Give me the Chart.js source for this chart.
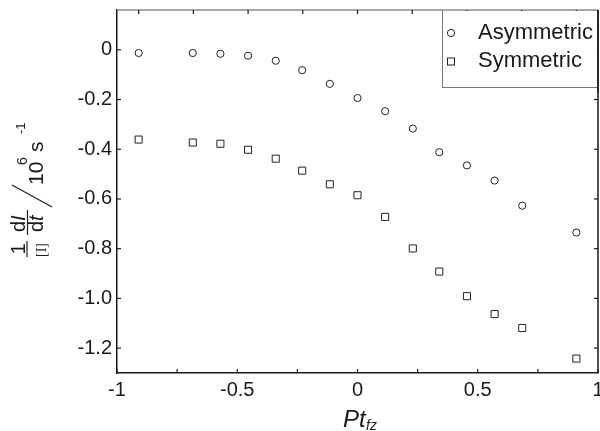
<!DOCTYPE html>
<html>
<head>
<meta charset="utf-8">
<script src="https://cdn.jsdelivr.net/npm/chart.js@4/dist/chart.umd.min.js"></script>
<style>
    body { margin: 0; background: #fff; }
</style>
</head>
<body>
<canvas id="chart" width="600" height="431"></canvas>
<script>
const ptValues = [-0.91, -0.685, -0.57, -0.455, -0.34, -0.23, -0.115, 0, 0.115, 0.23, 0.34, 0.455, 0.57, 0.685, 0.91];
const asymmetricRates = [-0.013, -0.013, -0.016, -0.024, -0.044, -0.082, -0.137, -0.194, -0.247, -0.317, -0.412, -0.465, -0.526, -0.627, -0.735];
const symmetricRates = [-0.361, -0.373, -0.378, -0.402, -0.438, -0.486, -0.541, -0.585, -0.672, -0.799, -0.892, -0.991, -1.063, -1.119, -1.242];

const xTickLabels = [-1, -0.5, 0, 0.5, 1];
const xMinorTicks = [-0.75, -0.25, 0.25, 0.75];
const topTicks = [-0.91, -0.6825, -0.455, -0.2275, 0, 0.2275, 0.455, 0.6825, 0.91];
const yTickLabels = [0, -0.2, -0.4, -0.6, -0.8, -1.0, -1.2];
const seriesNames = ["Asymmetric", "Symmetric"];

const FONT = "'Liberation Sans', Arial, sans-serif";
const INK = "#1a1a1a";

function toPoints(values) {
    return ptValues.map((x, i) => ({ x: x, y: values[i] }));
}

function line(ctx, x1, y1, x2, y2) {
    ctx.beginPath();
    ctx.moveTo(x1, y1);
    ctx.lineTo(x2, y2);
    ctx.stroke();
}

// frame, inward ticks, legend box and the two axis titles
const framePlugin = {
    id: "frame",
    afterDraw(chart) {
        const ctx = chart.ctx;
        const area = chart.chartArea;
        const xs = chart.scales.x;
        const ys = chart.scales.y;

        ctx.save();
        ctx.lineCap = "butt";

        // top and right edges
        ctx.lineWidth = 1.5;
        ctx.strokeStyle = "#8a8a8a";
        line(ctx, area.left, area.top, area.right, area.top);
        ctx.strokeStyle = INK;
        line(ctx, area.right, area.top, area.right, area.bottom);

        ctx.lineWidth = 1.2;
        ctx.strokeStyle = INK;
        for (let v of xTickLabels.concat(xMinorTicks)) {
            let px = xs.getPixelForValue(v);
            line(ctx, px, area.bottom, px, area.bottom - 4);
        }
        for (let v of topTicks) {
            let px = xs.getPixelForValue(v);
            line(ctx, px, area.top, px, area.top + 4);
        }
        for (let v of yTickLabels) {
            let py = ys.getPixelForValue(v);
            line(ctx, area.left, py, area.left + 4, py);
            line(ctx, area.right, py, area.right - 4, py);
        }

        // legend
        const legLeft = area.right - 156;
        const legBottom = 87;
        ctx.fillStyle = "#fff";
        ctx.fillRect(legLeft, area.top + 1, area.right - legLeft - 1, legBottom - area.top - 1);
        ctx.strokeStyle = "#777";
        ctx.lineWidth = 1;
        line(ctx, legLeft + 0.5, area.top, legLeft + 0.5, legBottom);
        line(ctx, legLeft, legBottom + 0.5, area.right, legBottom + 0.5);
        ctx.strokeStyle = INK;
        ctx.lineWidth = 1.5;
        line(ctx, area.right, area.top, area.right, legBottom + 6);

        ctx.lineWidth = 1;
        ctx.strokeStyle = "#222";
        ctx.beginPath();
        ctx.arc(legLeft + 9, 33, 3.6, 0, Math.PI * 2);
        ctx.stroke();
        ctx.strokeRect(legLeft + 5.5, 58, 7, 7);

        ctx.fillStyle = INK;
        ctx.font = "22px " + FONT;
        ctx.textAlign = "left";
        ctx.textBaseline = "alphabetic";
        ctx.fillText(seriesNames[0], legLeft + 36, 39);
        ctx.fillText(seriesNames[1], legLeft + 36, 67);

        // x title: Pt_fz
        ctx.font = "italic 24px " + FONT;
        ctx.fillText("Pt", 343, 427);
        ctx.font = "italic 14px " + FONT;
        ctx.fillText("fz", 366, 430);

        // y title, rotated
        ctx.save();
        ctx.rotate(-Math.PI / 2);
        ctx.textAlign = "center";
        ctx.font = "20px " + FONT;
        ctx.fillText("1", -249, 25);
        ctx.font = "14px 'Liberation Serif', serif";
        ctx.fillText("[I]", -250, 46);
        ctx.lineWidth = 1.2;
        line(ctx, -257, 27, -241, 27);

        ctx.textAlign = "left";
        ctx.font = "20px " + FONT;
        ctx.fillText("d", -232, 24.5);
        ctx.fillText("d", -232, 43);
        ctx.font = "italic 20px " + FONT;
        ctx.fillText("I", -221, 24.5);
        ctx.fillText("t", -221, 43);
        line(ctx, -235, 27.5, -210, 27.5);

        ctx.font = "21px " + FONT;
        ctx.fillText("10", -185, 43);
        ctx.fillText("s", -152, 43);
        ctx.font = "14px " + FONT;
        ctx.fillText("6", -165, 27);
        ctx.font = "13px " + FONT;
        ctx.fillText("-1", -134, 25);
        ctx.restore();

        ctx.lineWidth = 1.2;
        line(ctx, 12, 185, 52, 207);

        ctx.restore();
    }
};

new Chart(document.getElementById("chart"), {
    type: "scatter",
    data: {
        datasets: [{
            label: seriesNames[0],
            data: toPoints(asymmetricRates),
            pointStyle: "circle",
            pointRadius: 3.6,
            pointBorderWidth: 1,
            borderColor: "#222",
            backgroundColor: "#fff"
        }, {
            label: seriesNames[1],
            data: toPoints(symmetricRates),
            pointStyle: "rect",
            pointRadius: 5,
            pointBorderWidth: 1,
            borderColor: "#222",
            backgroundColor: "#fff"
        }]
    },
    options: {
        responsive: false,
        animation: false,
        events: [],
        layout: { autoPadding: false, padding: { left: 0, right: 2, top: 10, bottom: 0 } },
        plugins: {
            legend: { display: false },
            tooltip: { enabled: false }
        },
        scales: {
            x: {
                type: "linear",
                min: -1,
                max: 1,
                afterBuildTicks: (scale) => {
                    scale.ticks = xTickLabels.map((v) => ({ value: v }));
                },
                afterFit: (scale) => {
                    scale.height = 58;
                    scale.paddingLeft = 0;
                    scale.paddingRight = 0;
                },
                ticks: {
                    autoSkip: false,
                    maxRotation: 0,
                    padding: 5,
                    color: INK,
                    font: { family: FONT, size: 20 },
                    callback: (v) => String(v)
                },
                grid: { display: false, drawTicks: false },
                border: { display: true, color: INK, width: 1.5 }
            },
            y: {
                type: "linear",
                min: -1.3,
                max: 0.16,
                afterBuildTicks: (scale) => {
                    scale.ticks = yTickLabels.map((v) => ({ value: v }));
                },
                afterFit: (scale) => {
                    scale.width = 117;
                    scale.paddingTop = 0;
                    scale.paddingBottom = 0;
                },
                ticks: {
                    autoSkip: false,
                    padding: 5,
                    color: INK,
                    font: { family: FONT, size: 20 },
                    callback: (v) => v === 0 ? "0" : v.toFixed(1)
                },
                grid: { display: false, drawTicks: false },
                border: { display: true, color: INK, width: 1.5 }
            }
        }
    },
    plugins: [framePlugin]
});
</script>
</body>
</html>
